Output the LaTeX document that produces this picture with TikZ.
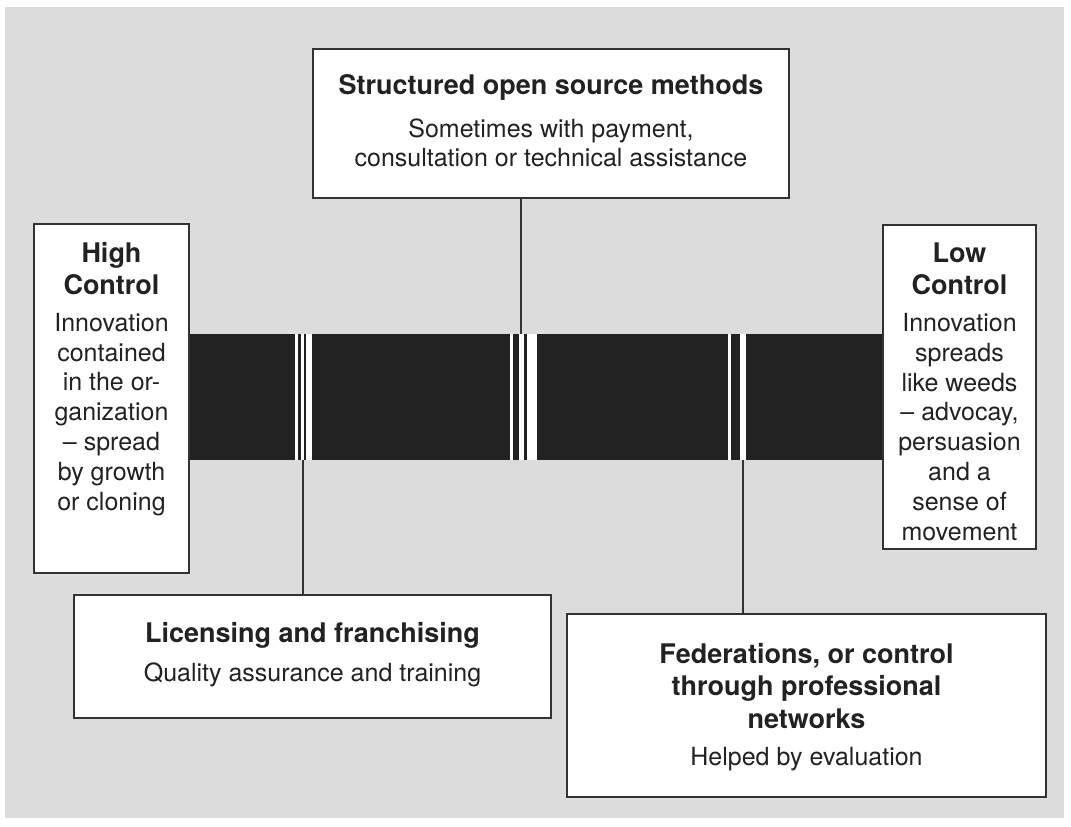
\documentclass[tikz,border=0pt]{standalone}
\usepackage{fontspec}
\setmainfont{TeX Gyre Heros}
\definecolor{bg}{HTML}{DCDCDC}
\definecolor{ink}{HTML}{222222}
\definecolor{edge}{HTML}{333333}
\begin{document}
\begin{tikzpicture}[x=0.75pt,y=-0.75pt,
  box/.style={draw=edge,line width=1.5pt,fill=white,inner sep=0pt,outer sep=0pt},
  barbox/.style={fill=ink,inner sep=0pt,outer sep=0pt,minimum width=0.75*694pt,minimum height=0.75*126pt},
  ttl/.style={font=\bfseries\fontsize{20.25}{24.4}\selectfont,text=ink,align=center,inner sep=0pt,anchor=base},
  txt/.style={font=\fontsize{18.75}{22.35}\selectfont,text=ink,align=center,inner sep=0pt,anchor=base},
  conn/.style={draw=edge,line width=1.5pt}]
\useasboundingbox (0,0) rectangle (1071,827);
\fill[bg] (5,7) rectangle (1064,818);
% bar
\node[barbox] (bar) at (536,397) {};
\fill[white] (295,334) rectangle (297.5,460);
\fill[white] (301,334) rectangle (303.5,460);
\fill[white] (306,334) rectangle (312,460);
\fill[white] (509.5,334) rectangle (512.5,460);
\fill[white] (518.5,334) rectangle (524,460);
\fill[white] (527,334) rectangle (537,460);
\fill[white] (728,334) rectangle (731,460);
\fill[white] (740,334) rectangle (746,460);
% boxes
\node[box,minimum width=0.75*476pt,minimum height=0.75*149pt] (top) at (551,123.5) {};
\node[box,minimum width=0.75*155pt,minimum height=0.75*349pt] (high) at (111.5,398.5) {};
\node[box,minimum width=0.75*153pt,minimum height=0.75*324pt] (low) at (959.5,387) {};
\node[box,minimum width=0.75*477pt,minimum height=0.75*123pt] (lic) at (312.5,656.5) {};
\node[box,minimum width=0.75*479pt,minimum height=0.75*183pt] (fed) at (806.5,705.5) {};
% connectors
\coordinate (ct) at (521,0);
\coordinate (cl) at (302.5,0);
\coordinate (cf) at (743,0);
\draw[conn] (top.south -| ct) -- (bar.north -| ct);
\draw[conn] (bar.south -| cl) -- (lic.north -| cl);
\draw[conn] (bar.south -| cf) -- (fed.north -| cf);
% texts (base anchor = baseline of last line)
\node[ttl] (topT) at (551,95) {Structured open source methods};
\node[txt] (topB) at (551,167) {Sometimes with payment,\\consultation or technical assistance};
\node[ttl] (highT) at (111.5,295) {High\\Control};
\node[txt] (highB) at (111.5,510) {Innovation\\contained\\in the or-\\ganization\\– spread\\by growth\\or cloning};
\node[ttl] (lowT) at (959.5,295) {Low\\Control};
\node[txt] (lowB) at (959.5,540) {Innovation\\spreads\\like weeds\\– advocay,\\persuasion\\and a\\sense of\\movement};
\node[ttl] (licT) at (312.5,642.7) {Licensing and franchising};
\node[txt] (licB) at (312.5,681.7) {Quality assurance and training};
\node[ttl] (fedT) at (806.5,728.5) {Federations, or control\\through professional\\networks};
\node[txt] (fedB) at (806.5,765) {Helped by evaluation};
\end{tikzpicture}
\end{document}
